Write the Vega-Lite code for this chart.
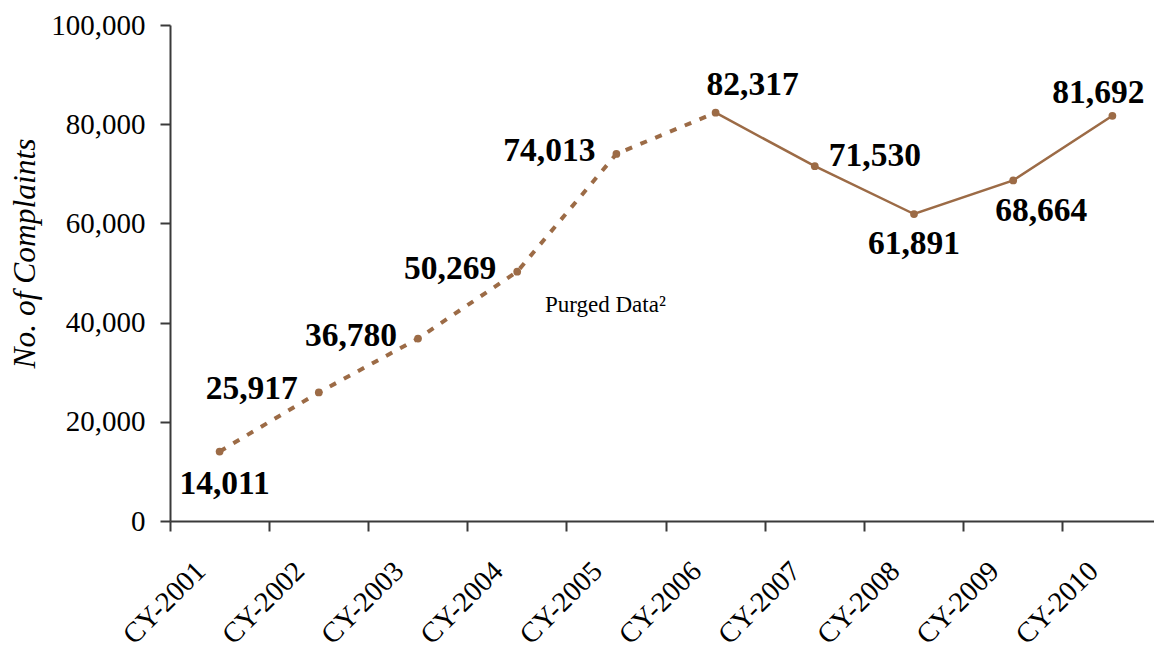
{
  "$schema": "https://vega.github.io/schema/vega-lite/v6.json",
  "width": 984,
  "height": 496,
  "autosize": {"type": "none"},
  "padding": {"left": 170, "top": 25, "right": 0, "bottom": 129},
  "background": "white",
  "config": {
    "view": {"stroke": null},
    "font": "Liberation Serif",
    "axis": {"grid": false, "domainColor": "#3a3a3a", "tickColor": "#3a3a3a", "domainWidth": 2, "tickWidth": 2, "labelColor": "#000", "titleColor": "#000", "labelFont": "Liberation Serif", "titleFont": "Liberation Serif"}
  },
  "data": {
    "values": [
      {"year": "CY-2001", "value": 14011},
      {"year": "CY-2002", "value": 25917},
      {"year": "CY-2003", "value": 36780},
      {"year": "CY-2004", "value": 50269},
      {"year": "CY-2005", "value": 74013},
      {"year": "CY-2006", "value": 82317},
      {"year": "CY-2007", "value": 71530},
      {"year": "CY-2008", "value": 61891},
      {"year": "CY-2009", "value": 68664},
      {"year": "CY-2010", "value": 81692}
    ]
  },
  "encoding": {
    "x": {
      "field": "year", "type": "nominal", "sort": null,
      "scale": {"type": "band", "paddingInner": 0, "paddingOuter": 0, "range": [0, 992]},
      "axis": {"title": null, "bandPosition": 0, "tickSize": 10, "labelAngle": -45, "labelAlign": "right", "labelBaseline": "middle", "labelOffset": -19, "labelPadding": 35, "labelFontSize": 28.5, "labelBound": false, "labelOverlap": false, "labelFlush": false}
    },
    "y": {
      "field": "value", "type": "quantitative",
      "scale": {"domain": [0, 100000], "nice": false},
      "axis": {"title": "No. of Complaints", "values": [0, 20000, 40000, 60000, 80000, 100000], "format": ",.0f", "tickSize": 10, "labelPadding": 15, "labelFontSize": 29, "titleFontSize": 31.5, "titleFontStyle": "italic", "titleFontWeight": "normal", "titleX": -145, "titleY": 228, "titleAngle": 270, "titleAlign": "center", "titleBaseline": "middle"}
    }
  },
  "layer": [
    {
      "transform": [{"filter": {"field": "year", "oneOf": ["CY-2001", "CY-2002", "CY-2003", "CY-2004", "CY-2005", "CY-2006"]}}],
      "mark": {"type": "line", "color": "#9C6B46", "strokeWidth": 4, "strokeDash": [7, 9]}
    },
    {
      "transform": [{"filter": {"field": "year", "oneOf": ["CY-2006", "CY-2007", "CY-2008", "CY-2009", "CY-2010"]}}],
      "mark": {"type": "line", "color": "#9C6B46", "strokeWidth": 2.5}
    },
    {
      "mark": {"type": "point", "filled": true, "color": "#9C6B46", "size": 60, "opacity": 1}
    },
    {
      "transform": [{"filter": {"field": "year", "oneOf": ["CY-2002", "CY-2003", "CY-2004", "CY-2005"]}}],
      "mark": {"type": "text", "align": "right", "baseline": "middle", "dx": -21, "dy": -3, "fontSize": 33.5, "fontWeight": "bold", "color": "#000"},
      "encoding": {"text": {"field": "value", "type": "quantitative", "format": ","}}
    },
    {
      "transform": [{"filter": {"field": "year", "oneOf": ["CY-2001"]}}],
      "mark": {"type": "text", "align": "center", "baseline": "middle", "dx": 5, "dy": 32, "fontSize": 33.5, "fontWeight": "bold", "color": "#000"},
      "encoding": {"text": {"field": "value", "type": "quantitative", "format": ","}}
    },
    {
      "transform": [{"filter": {"field": "year", "oneOf": ["CY-2008"]}}],
      "mark": {"type": "text", "align": "center", "baseline": "middle", "dx": 0, "dy": 30, "fontSize": 33.5, "fontWeight": "bold", "color": "#000"},
      "encoding": {"text": {"field": "value", "type": "quantitative", "format": ","}}
    },
    {
      "transform": [{"filter": {"field": "year", "oneOf": ["CY-2009"]}}],
      "mark": {"type": "text", "align": "center", "baseline": "middle", "dx": 28, "dy": 31, "fontSize": 33.5, "fontWeight": "bold", "color": "#000"},
      "encoding": {"text": {"field": "value", "type": "quantitative", "format": ","}}
    },
    {
      "transform": [{"filter": {"field": "year", "oneOf": ["CY-2006"]}}],
      "mark": {"type": "text", "align": "center", "baseline": "middle", "dx": 37, "dy": -28, "fontSize": 33.5, "fontWeight": "bold", "color": "#000"},
      "encoding": {"text": {"field": "value", "type": "quantitative", "format": ","}}
    },
    {
      "transform": [{"filter": {"field": "year", "oneOf": ["CY-2010"]}}],
      "mark": {"type": "text", "align": "center", "baseline": "middle", "dx": -14, "dy": -23, "fontSize": 33.5, "fontWeight": "bold", "color": "#000"},
      "encoding": {"text": {"field": "value", "type": "quantitative", "format": ","}}
    },
    {
      "transform": [{"filter": {"field": "year", "oneOf": ["CY-2007"]}}],
      "mark": {"type": "text", "align": "left", "baseline": "middle", "dx": 14, "dy": -10, "fontSize": 33.5, "fontWeight": "bold", "color": "#000"},
      "encoding": {"text": {"field": "value", "type": "quantitative", "format": ","}}
    },
    {
      "data": {"values": [{"year": "CY-2005", "value": 43500, "note": "Purged Data²"}]},
      "mark": {"type": "text", "align": "center", "baseline": "middle", "dx": -11, "fontSize": 23, "color": "#000"},
      "encoding": {"text": {"field": "note", "type": "nominal"}}
    }
  ]
}
